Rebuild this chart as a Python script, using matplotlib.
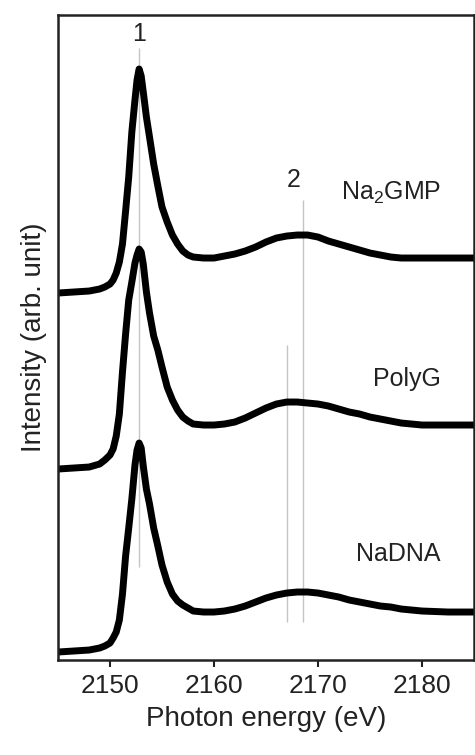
import matplotlib
matplotlib.use("Agg")
import matplotlib.pyplot as plt

plt.rcParams["font.family"] = ["Liberation Sans", "DejaVu Sans"]
plt.rcParams["mathtext.default"] = "regular"

# photon energy (eV), shared by the three spectra
energy = [2145.0, 2146.5, 2148.0, 2149.0, 2149.5, 2150.0, 2150.3, 2150.6, 2150.9,
          2151.2, 2151.5, 2151.8, 2152.1, 2152.4, 2152.6, 2152.8, 2153.0, 2153.2,
          2153.5, 2153.8, 2154.2, 2154.6, 2155.0, 2155.5, 2156.0, 2156.5, 2157.0,
          2157.5, 2158.0, 2159.0, 2160.0, 2161.0, 2162.0, 2163.0, 2164.0, 2165.0,
          2166.0, 2167.0, 2168.0, 2169.0, 2170.0, 2171.0, 2172.0, 2173.0, 2174.0,
          2175.0, 2176.0, 2177.0, 2178.0, 2179.0, 2180.0, 2182.5, 2185.0]

na2gmp = [0.07, 0.08, 0.09, 0.11, 0.13, 0.16, 0.20, 0.27, 0.38, 0.56, 0.89, 1.23,
          1.68, 2.00, 2.20, 2.31, 2.24, 2.08, 1.83, 1.63, 1.36, 1.14, 0.93, 0.78,
          0.65, 0.56, 0.49, 0.45, 0.43, 0.42, 0.42, 0.44, 0.46, 0.49, 0.53, 0.58,
          0.62, 0.64, 0.65, 0.65, 0.63, 0.59, 0.56, 0.53, 0.50, 0.47, 0.45, 0.43,
          0.42, 0.42, 0.42, 0.42, 0.42]

polyg = [0.11, 0.12, 0.13, 0.16, 0.20, 0.25, 0.31, 0.44, 0.66, 1.08, 1.46, 1.80,
         1.98, 2.17, 2.25, 2.31, 2.28, 2.16, 1.88, 1.67, 1.44, 1.30, 1.13, 0.93,
         0.80, 0.70, 0.63, 0.59, 0.56, 0.55, 0.55, 0.56, 0.58, 0.62, 0.67, 0.72,
         0.76, 0.78, 0.78, 0.77, 0.76, 0.74, 0.71, 0.68, 0.66, 0.63, 0.61, 0.59,
         0.57, 0.56, 0.55, 0.55, 0.55]

nadna = [0.08, 0.09, 0.10, 0.12, 0.14, 0.17, 0.22, 0.28, 0.40, 0.66, 1.04, 1.32,
         1.61, 1.95, 2.10, 2.17, 2.12, 1.94, 1.71, 1.56, 1.32, 1.14, 0.95, 0.78,
         0.66, 0.59, 0.55, 0.52, 0.49, 0.48, 0.48, 0.49, 0.51, 0.54, 0.58, 0.62,
         0.65, 0.67, 0.68, 0.68, 0.67, 0.65, 0.63, 0.60, 0.58, 0.56, 0.54, 0.53,
         0.51, 0.50, 0.49, 0.48, 0.48]

names = [r"Na$_2$GMP", "PolyG", "NaDNA"]
offsets = [3.6, 1.8, 0.0]

# peak markers: position, bottom, top
marker_pos = [2152.8, 2168.55, 2167.0]
marker_lo = [0.93, 0.38, 0.38]
marker_hi = [6.12, 4.60, 3.15]


fig = plt.figure(figsize=(4.75, 7.55), dpi=100)
ax = fig.add_axes([0.1221, 0.1258, 0.8758, 0.8543])

ax.vlines(marker_pos, marker_lo, marker_hi, color="#c4c4c4", lw=1.0, zorder=1)

for spec, off in zip([na2gmp, polyg, nadna], offsets):
    ax.plot(energy, [v + off for v in spec], color="black", lw=5.0,
            solid_capstyle="butt", solid_joinstyle="round", zorder=2)

label_y = [4.67, 2.81, 1.06]
for name, ly in zip(names, label_y):
    ax.text(2181.8, ly, name, ha="right", va="center", fontsize=18, color="#222222")

ax.text(2152.8, 6.26, "1", ha="center", va="center", fontsize=18, color="#222222")
ax.text(2167.7, 4.80, "2", ha="center", va="center", fontsize=18, color="#222222")

ax.set_xlim(2145, 2185)
ax.set_ylim(0, 6.45)
ax.set_xticks([2150, 2160, 2170, 2180])
ax.set_yticks([])
ax.tick_params(axis="x", direction="out", length=5, width=1.5, labelsize=19,
               pad=5, colors="#222222")
for s in ax.spines.values():
    s.set_linewidth(1.8)
    s.set_color("#222222")

ax.set_xlabel("Photon energy (eV)", fontsize=20, color="#222222", labelpad=6)
ax.set_ylabel("Intensity (arb. unit)", fontsize=20, color="#222222", labelpad=8)

fig.savefig("out.png", dpi=100)
